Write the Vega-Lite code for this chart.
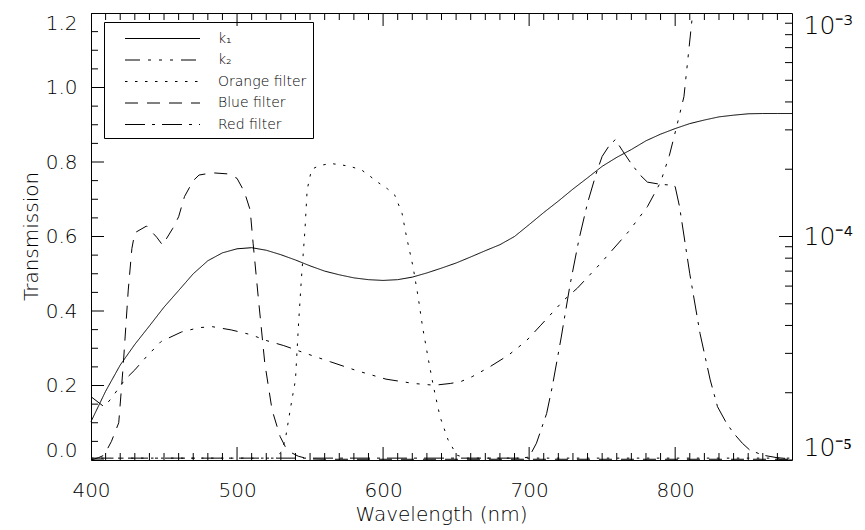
{
  "$schema": "https://vega.github.io/schema/vega-lite/v6.json",
  "autosize": {"type": "none"},
  "width": 701,
  "height": 447,
  "padding": {"left": 91, "top": 13, "right": 73, "bottom": 70},
  "background": "white",
  "config": {
    "font": "DejaVu Sans",
    "view": {"stroke": "black", "strokeWidth": 1},
    "axis": {"domain": false, "grid": false, "ticks": false, "labelColor": "black", "titleColor": "black", "titleFontWeight": 200, "labelFont": "DejaVu Sans", "titleFont": "DejaVu Sans", "labelFontWeight": 200}
  },
  "datasets": {
    "xMajor": [{"t": 400}, {"t": 500}, {"t": 600}, {"t": 700}, {"t": 800}],
    "xMinor": [{"t":410},{"t":420},{"t":430},{"t":440},{"t":450},{"t":460},{"t":470},{"t":480},{"t":490},{"t":510},{"t":520},{"t":530},{"t":540},{"t":550},{"t":560},{"t":570},{"t":580},{"t":590},{"t":610},{"t":620},{"t":630},{"t":640},{"t":650},{"t":660},{"t":670},{"t":680},{"t":690},{"t":710},{"t":720},{"t":730},{"t":740},{"t":750},{"t":760},{"t":770},{"t":780},{"t":790},{"t":810},{"t":820},{"t":830},{"t":840},{"t":850},{"t":860},{"t":870}],
    "yMajor": [{"t": 0}, {"t": 0.2}, {"t": 0.4}, {"t": 0.6}, {"t": 0.8}, {"t": 1.0}, {"t": 1.2}],
    "yMinor": [{"t":0.05},{"t":0.1},{"t":0.15},{"t":0.25},{"t":0.3},{"t":0.35},{"t":0.45},{"t":0.5},{"t":0.55},{"t":0.65},{"t":0.7},{"t":0.75},{"t":0.85},{"t":0.9},{"t":0.95},{"t":1.05},{"t":1.1},{"t":1.15}],
    "rMajor": [{"t": 1e-5}, {"t": 1e-4}, {"t": 1e-3}],
    "rMinor": [{"t":2e-5},{"t":3e-5},{"t":4e-5},{"t":5e-5},{"t":6e-5},{"t":7e-5},{"t":8e-5},{"t":9e-5},{"t":2e-4},{"t":3e-4},{"t":4e-4},{"t":5e-4},{"t":6e-4},{"t":7e-4},{"t":8e-4},{"t":9e-4}],
    "curves": [
    {"s":"k₁","w":400,"v":1.485e-5},{"s":"k₁","w":410,"v":2.03e-5},{"s":"k₁","w":420,"v":2.66e-5},{"s":"k₁","w":430,"v":3.29e-5},{"s":"k₁","w":440,"v":3.98e-5},{"s":"k₁","w":450,"v":4.83e-5},{"s":"k₁","w":460,"v":5.73e-5},{"s":"k₁","w":470,"v":6.81e-5},{"s":"k₁","w":480,"v":7.79e-5},{"s":"k₁","w":490,"v":8.45e-5},{"s":"k₁","w":500,"v":8.81e-5},{"s":"k₁","w":510,"v":8.91e-5},{"s":"k₁","w":520,"v":8.68e-5},{"s":"k₁","w":530,"v":8.29e-5},{"s":"k₁","w":540,"v":7.85e-5},{"s":"k₁","w":550,"v":7.39e-5},{"s":"k₁","w":560,"v":7.0e-5},{"s":"k₁","w":570,"v":6.74e-5},{"s":"k₁","w":580,"v":6.53e-5},{"s":"k₁","w":590,"v":6.41e-5},{"s":"k₁","w":600,"v":6.36e-5},{"s":"k₁","w":610,"v":6.41e-5},{"s":"k₁","w":620,"v":6.58e-5},{"s":"k₁","w":630,"v":6.87e-5},{"s":"k₁","w":640,"v":7.22e-5},{"s":"k₁","w":650,"v":7.61e-5},{"s":"k₁","w":660,"v":8.10e-5},{"s":"k₁","w":670,"v":8.64e-5},{"s":"k₁","w":680,"v":9.19e-5},{"s":"k₁","w":690,"v":1.0e-4},{"s":"k₁","w":700,"v":1.13e-4},{"s":"k₁","w":710,"v":1.28e-4},{"s":"k₁","w":720,"v":1.44e-4},{"s":"k₁","w":730,"v":1.63e-4},{"s":"k₁","w":740,"v":1.83e-4},{"s":"k₁","w":750,"v":2.06e-4},{"s":"k₁","w":760,"v":2.26e-4},{"s":"k₁","w":770,"v":2.45e-4},{"s":"k₁","w":780,"v":2.68e-4},{"s":"k₁","w":790,"v":2.87e-4},{"s":"k₁","w":800,"v":3.04e-4},{"s":"k₁","w":810,"v":3.20e-4},{"s":"k₁","w":820,"v":3.32e-4},{"s":"k₁","w":830,"v":3.43e-4},{"s":"k₁","w":840,"v":3.49e-4},{"s":"k₁","w":850,"v":3.54e-4},{"s":"k₁","w":860,"v":3.55e-4},{"s":"k₁","w":870,"v":3.55e-4},{"s":"k₁","w":880,"v":3.55e-4},
    {"s":"k₂","w":400,"v":1.92e-5},{"s":"k₂","w":409,"v":1.73e-5},{"s":"k₂","w":414,"v":1.89e-5},{"s":"k₂","w":423,"v":2.28e-5},{"s":"k₂","w":430,"v":2.53e-5},{"s":"k₂","w":438,"v":2.90e-5},{"s":"k₂","w":448,"v":3.39e-5},{"s":"k₂","w":462,"v":3.74e-5},{"s":"k₂","w":474,"v":3.91e-5},{"s":"k₂","w":483,"v":3.95e-5},{"s":"k₂","w":496,"v":3.82e-5},{"s":"k₂","w":510,"v":3.63e-5},{"s":"k₂","w":519,"v":3.44e-5},{"s":"k₂","w":532,"v":3.25e-5},{"s":"k₂","w":547,"v":3.00e-5},{"s":"k₂","w":564,"v":2.75e-5},{"s":"k₂","w":582,"v":2.51e-5},{"s":"k₂","w":602,"v":2.30e-5},{"s":"k₂","w":621,"v":2.20e-5},{"s":"k₂","w":635,"v":2.16e-5},{"s":"k₂","w":646,"v":2.20e-5},{"s":"k₂","w":653,"v":2.24e-5},{"s":"k₂","w":661,"v":2.36e-5},{"s":"k₂","w":673,"v":2.61e-5},{"s":"k₂","w":686,"v":2.95e-5},{"s":"k₂","w":698,"v":3.41e-5},{"s":"k₂","w":708,"v":4.01e-5},{"s":"k₂","w":724,"v":5.21e-5},{"s":"k₂","w":733,"v":5.87e-5},{"s":"k₂","w":749,"v":7.59e-5},{"s":"k₂","w":768,"v":1.05e-4},{"s":"k₂","w":781,"v":1.36e-4},{"s":"k₂","w":790,"v":1.75e-4},{"s":"k₂","w":796,"v":2.3e-4},{"s":"k₂","w":801,"v":3.10e-4},{"s":"k₂","w":806,"v":4.22e-4},{"s":"k₂","w":812,"v":1.0e-3},
    {"s":"Orange filter","w":400,"v":0.005},{"s":"Orange filter","w":525,"v":0.005},{"s":"Orange filter","w":530,"v":0.02},{"s":"Orange filter","w":533,"v":0.054},{"s":"Orange filter","w":537.5,"v":0.16},{"s":"Orange filter","w":540,"v":0.215},{"s":"Orange filter","w":542,"v":0.358},{"s":"Orange filter","w":544,"v":0.483},{"s":"Orange filter","w":546.5,"v":0.617},{"s":"Orange filter","w":548,"v":0.725},{"s":"Orange filter","w":551,"v":0.78},{"s":"Orange filter","w":556,"v":0.79},{"s":"Orange filter","w":564,"v":0.796},{"s":"Orange filter","w":572,"v":0.792},{"s":"Orange filter","w":578.5,"v":0.787},{"s":"Orange filter","w":585.5,"v":0.778},{"s":"Orange filter","w":591,"v":0.762},{"s":"Orange filter","w":597,"v":0.744},{"s":"Orange filter","w":603,"v":0.728},{"s":"Orange filter","w":608,"v":0.711},{"s":"Orange filter","w":613,"v":0.662},{"s":"Orange filter","w":616,"v":0.6},{"s":"Orange filter","w":620.5,"v":0.519},{"s":"Orange filter","w":624,"v":0.438},{"s":"Orange filter","w":627,"v":0.358},{"s":"Orange filter","w":631,"v":0.27},{"s":"Orange filter","w":634.5,"v":0.197},{"s":"Orange filter","w":639,"v":0.116},{"s":"Orange filter","w":644.5,"v":0.054},{"s":"Orange filter","w":650.5,"v":0.013},{"s":"Orange filter","w":657,"v":0.005},{"s":"Orange filter","w":880,"v":0.005},
    {"s":"Blue filter","w":400,"v":0.0},{"s":"Blue filter","w":405,"v":0.006},{"s":"Blue filter","w":409,"v":0.013},{"s":"Blue filter","w":414,"v":0.05},{"s":"Blue filter","w":419,"v":0.1},{"s":"Blue filter","w":422,"v":0.25},{"s":"Blue filter","w":425.5,"v":0.456},{"s":"Blue filter","w":428,"v":0.568},{"s":"Blue filter","w":430,"v":0.61},{"s":"Blue filter","w":438,"v":0.628},{"s":"Blue filter","w":445,"v":0.598},{"s":"Blue filter","w":449,"v":0.577},{"s":"Blue filter","w":456,"v":0.622},{"s":"Blue filter","w":460,"v":0.653},{"s":"Blue filter","w":464,"v":0.707},{"s":"Blue filter","w":470,"v":0.75},{"s":"Blue filter","w":474,"v":0.765},{"s":"Blue filter","w":483,"v":0.771},{"s":"Blue filter","w":494,"v":0.768},{"s":"Blue filter","w":500,"v":0.756},{"s":"Blue filter","w":505,"v":0.72},{"s":"Blue filter","w":509,"v":0.671},{"s":"Blue filter","w":511,"v":0.582},{"s":"Blue filter","w":514.5,"v":0.438},{"s":"Blue filter","w":519,"v":0.26},{"s":"Blue filter","w":524,"v":0.134},{"s":"Blue filter","w":529.5,"v":0.063},{"s":"Blue filter","w":533,"v":0.036},{"s":"Blue filter","w":537,"v":0.02},{"s":"Blue filter","w":542,"v":0.01},{"s":"Blue filter","w":549,"v":0.003},{"s":"Blue filter","w":560,"v":0.002},{"s":"Blue filter","w":880,"v":0.002},
    {"s":"Red filter","w":400,"v":0.005},{"s":"Red filter","w":500,"v":0.005},{"s":"Red filter","w":600,"v":0.005},{"s":"Red filter","w":695,"v":0.005},{"s":"Red filter","w":700,"v":0.008},{"s":"Red filter","w":705,"v":0.045},{"s":"Red filter","w":712,"v":0.125},{"s":"Red filter","w":716,"v":0.2},{"s":"Red filter","w":722,"v":0.33},{"s":"Red filter","w":728,"v":0.47},{"s":"Red filter","w":734,"v":0.59},{"s":"Red filter","w":740,"v":0.69},{"s":"Red filter","w":746,"v":0.77},{"s":"Red filter","w":750,"v":0.815},{"s":"Red filter","w":755,"v":0.845},{"s":"Red filter","w":759,"v":0.86},{"s":"Red filter","w":764,"v":0.83},{"s":"Red filter","w":770,"v":0.795},{"s":"Red filter","w":776,"v":0.765},{"s":"Red filter","w":781,"v":0.746},{"s":"Red filter","w":790,"v":0.74},{"s":"Red filter","w":797,"v":0.738},{"s":"Red filter","w":800,"v":0.734},{"s":"Red filter","w":803,"v":0.68},{"s":"Red filter","w":810,"v":0.5},{"s":"Red filter","w":817,"v":0.34},{"s":"Red filter","w":824,"v":0.215},{"s":"Red filter","w":829,"v":0.143},{"s":"Red filter","w":835,"v":0.1},{"s":"Red filter","w":840,"v":0.072},{"s":"Red filter","w":846,"v":0.045},{"s":"Red filter","w":851,"v":0.027},{"s":"Red filter","w":860,"v":0.013},{"s":"Red filter","w":870,"v":0.006},{"s":"Red filter","w":880,"v":0.003}
    ]
  },
  "resolve": {"scale": {"y": "independent"}, "axis": {"x": "independent", "y": "independent"}},
  "layer": [
    {
      "data": {"name": "curves"},
      "transform": [{"filter": {"field": "s", "oneOf": ["Orange filter", "Blue filter", "Red filter"]}}],
      "mark": {"type": "line", "color": "black", "strokeWidth": 1},
      "encoding": {
        "x": {"field": "w", "type": "quantitative", "scale": {"domain": [400, 880], "nice": false, "zero": false},
              "axis": {"orient": "bottom", "values": [400, 500, 600, 700, 800], "format": "d", "labelOverlap": false,
                       "labelPadding": 20, "labelFlush": false, "labelFontSize": 20, "title": "Wavelength (nm)", "titleFontSize": 20, "titleX": 350, "titleY": 54, "titleBaseline": "middle", "titleAnchor": "middle"}},
        "y": {"field": "v", "type": "quantitative", "scale": {"domain": [0, 1.2], "nice": false, "zero": false},
              "axis": {"orient": "left", "values": [0, 0.2, 0.4, 0.6, 0.8, 1.0, 1.2], "format": ".1f", "labelOverlap": false,
                       "labelPadding": 14, "labelFontSize": 20, "labelFlush": true, "title": "Transmission", "titleFontSize": 20, "titleX": -60, "titleY": 223, "titleAngle": -90, "titleBaseline": "middle", "titleAlign": "center"}},
        "strokeDash": {"field": "s", "type": "nominal",
              "scale": {"domain": ["k₁", "k₂", "Orange filter", "Blue filter", "Red filter"], "range": [[1, 0], [15, 8, 3, 8, 3, 8, 3, 8], [2.5, 7.5], [13, 9], [20, 7, 3, 7]]},
              "legend": {"orient": "none", "legendX": 13, "legendY": 9, "title": null, "symbolType": "M-3.75,0H3.75", "symbolSize": 400, "symbolStrokeWidth": 1, "symbolStrokeColor": "black", "symbolFillColor": "transparent", "symbolOffset": 42, "labelOffset": 45, "labelFontSize": 14, "labelFontWeight": 200, "labelColor": "black", "padding": 6, "rowPadding": 3.5, "strokeColor": "black"}}
      }
    },
    {
      "data": {"name": "curves"},
      "transform": [{"filter": {"field": "s", "oneOf": ["k₁", "k₂"]}}],
      "mark": {"type": "line", "color": "black", "strokeWidth": 1},
      "encoding": {
        "x": {"field": "w", "type": "quantitative", "scale": {"domain": [400, 880], "nice": false, "zero": false}, "axis": null},
        "y": {"field": "v", "type": "quantitative", "scale": {"type": "log", "domain": [1e-5, 1e-3], "nice": false},
              "axis": {"orient": "right", "values": [1e-5, 1e-4, 1e-3],
                       "labelExpr": "datum.value < 1.5e-5 ? '10⁻⁵' : datum.value < 5e-4 ? '10⁻⁴' : '10⁻³'", "labelOverlap": false,
                       "labelPadding": 11, "labelFontSize": 25, "labelFlush": true, "title": null}},
        "strokeDash": {"field": "s", "type": "nominal",
              "scale": {"domain": ["k₁", "k₂", "Orange filter", "Blue filter", "Red filter"], "range": [[1, 0], [15, 8, 3, 8, 3, 8, 3, 8], [2.5, 7.5], [13, 9], [20, 7, 3, 7]]}}
      }
    },
    {
      "data": {"name": "xMajor"},
      "mark": {"type": "tick", "orient": "vertical", "size": 26, "thickness": 1, "color": "black", "opacity": 1, "clip": true},
      "encoding": {
        "x": {"field": "t", "type": "quantitative", "scale": {"domain": [400, 880], "nice": false, "zero": false}, "axis": null},
        "y": {"datum": 0, "type": "quantitative", "scale": {"domain": [0, 1.2], "nice": false, "zero": false}, "axis": null}
      }
    },
    {
      "data": {"name": "xMajor"},
      "mark": {"type": "tick", "orient": "vertical", "size": 26, "thickness": 1, "color": "black", "opacity": 1, "clip": true},
      "encoding": {
        "x": {"field": "t", "type": "quantitative", "scale": {"domain": [400, 880], "nice": false, "zero": false}, "axis": null},
        "y": {"datum": 1.2, "type": "quantitative", "scale": {"domain": [0, 1.2], "nice": false, "zero": false}, "axis": null}
      }
    },
    {
      "data": {"name": "xMinor"},
      "mark": {"type": "tick", "orient": "vertical", "size": 14, "thickness": 1, "color": "black", "opacity": 1, "clip": true},
      "encoding": {
        "x": {"field": "t", "type": "quantitative", "scale": {"domain": [400, 880], "nice": false, "zero": false}, "axis": null},
        "y": {"datum": 0, "type": "quantitative", "scale": {"domain": [0, 1.2], "nice": false, "zero": false}, "axis": null}
      }
    },
    {
      "data": {"name": "xMinor"},
      "mark": {"type": "tick", "orient": "vertical", "size": 14, "thickness": 1, "color": "black", "opacity": 1, "clip": true},
      "encoding": {
        "x": {"field": "t", "type": "quantitative", "scale": {"domain": [400, 880], "nice": false, "zero": false}, "axis": null},
        "y": {"datum": 1.2, "type": "quantitative", "scale": {"domain": [0, 1.2], "nice": false, "zero": false}, "axis": null}
      }
    },
    {
      "data": {"name": "yMajor"},
      "mark": {"type": "tick", "orient": "horizontal", "size": 26, "thickness": 1, "color": "black", "opacity": 1, "clip": true},
      "encoding": {
        "y": {"field": "t", "type": "quantitative", "scale": {"domain": [0, 1.2], "nice": false, "zero": false}, "axis": null},
        "x": {"datum": 400, "type": "quantitative", "scale": {"domain": [400, 880], "nice": false, "zero": false}, "axis": null}
      }
    },
    {
      "data": {"name": "yMinor"},
      "mark": {"type": "tick", "orient": "horizontal", "size": 14, "thickness": 1, "color": "black", "opacity": 1, "clip": true},
      "encoding": {
        "y": {"field": "t", "type": "quantitative", "scale": {"domain": [0, 1.2], "nice": false, "zero": false}, "axis": null},
        "x": {"datum": 400, "type": "quantitative", "scale": {"domain": [400, 880], "nice": false, "zero": false}, "axis": null}
      }
    },
    {
      "data": {"name": "rMajor"},
      "mark": {"type": "tick", "orient": "horizontal", "size": 26, "thickness": 1, "color": "black", "opacity": 1, "clip": true},
      "encoding": {
        "y": {"field": "t", "type": "quantitative", "scale": {"type": "log", "domain": [1e-5, 1e-3], "nice": false}, "axis": null},
        "x": {"datum": 880, "type": "quantitative", "scale": {"domain": [400, 880], "nice": false, "zero": false}, "axis": null}
      }
    },
    {
      "data": {"name": "rMinor"},
      "mark": {"type": "tick", "orient": "horizontal", "size": 14, "thickness": 1, "color": "black", "opacity": 1, "clip": true},
      "encoding": {
        "y": {"field": "t", "type": "quantitative", "scale": {"type": "log", "domain": [1e-5, 1e-3], "nice": false}, "axis": null},
        "x": {"datum": 880, "type": "quantitative", "scale": {"domain": [400, 880], "nice": false, "zero": false}, "axis": null}
      }
    }
  ]
}
